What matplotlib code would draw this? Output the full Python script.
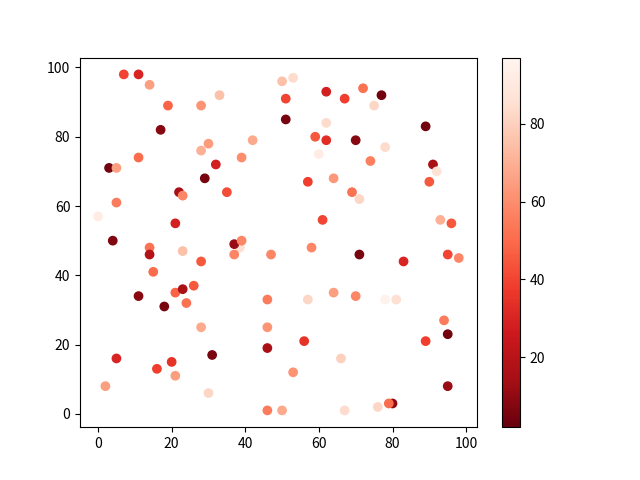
import matplotlib
matplotlib.use("Agg")
import matplotlib.pyplot as plt

plt.rcParams['font.family'] = ['Noto Sans CJK SC', 'DejaVu Sans']

x = [0, 2, 3, 4, 5, 5, 5, 7, 11, 11, 11, 14, 14, 14, 15, 16, 17, 18, 19, 20,
     21, 21, 21, 22, 23, 23, 23, 24, 26, 28, 28, 28, 28, 29, 30, 30, 31, 32, 33, 35,
     38.5, 37, 37, 39, 39, 42, 46, 46, 46, 46, 47, 50, 50, 51, 51, 53, 53, 56, 57, 57,
     58, 59, 60, 61, 62, 62, 62, 64, 64, 66, 67, 67, 69, 70, 70, 71, 71, 72, 74, 75,
     76, 77, 78, 78, 80, 79, 81, 83, 89, 89, 90, 91, 92, 93, 94, 95, 95, 95, 96, 98]
y = [57, 8, 71, 50, 71, 61, 16, 98, 98, 74, 34, 95, 48, 46, 41, 13, 82, 31, 89, 15,
     55, 35, 11, 64, 63, 47, 36, 32, 37, 89, 76, 44, 25, 68, 78, 6, 17, 72, 92, 64,
     48, 49, 46, 50, 74, 79, 33, 25, 19, 1, 46, 96, 1, 91, 85, 97, 12, 21, 67, 33,
     48, 80, 75, 56, 93, 84, 79, 68, 35, 16, 91, 1, 64, 79, 34, 62, 46, 94, 73, 89,
     2, 92, 77, 33, 3, 3, 33, 44, 83, 21, 67, 72, 70, 56, 27, 46, 23, 8, 55, 45]
c = [92, 65, 4, 7, 65, 55, 30, 40, 30, 50, 9, 65, 52, 18, 50, 38, 8, 5, 48, 35,
     28, 48, 65, 15, 58, 75, 15, 52, 45, 62, 70, 45, 68, 5, 64, 82, 6, 28, 75, 42,
     85, 12, 58, 58, 60, 68, 55, 62, 15, 55, 58, 75, 68, 40, 5, 84, 62, 35, 38, 82,
     58, 45, 92, 40, 28, 84, 33, 63, 65, 80, 38, 84, 52, 8, 58, 82, 5, 52, 56, 82,
     82, 4, 84, 95, 10, 50, 85, 30, 4, 38, 45, 15, 86, 70, 55, 40, 4, 12, 45, 58]

fig, ax = plt.subplots(figsize=(6.4, 4.8), dpi=100)
sc = ax.scatter(x, y, c=c, cmap='Reds_r', vmin=2, vmax=97)
fig.colorbar(sc, ax=ax)
fig.savefig('out.png')
